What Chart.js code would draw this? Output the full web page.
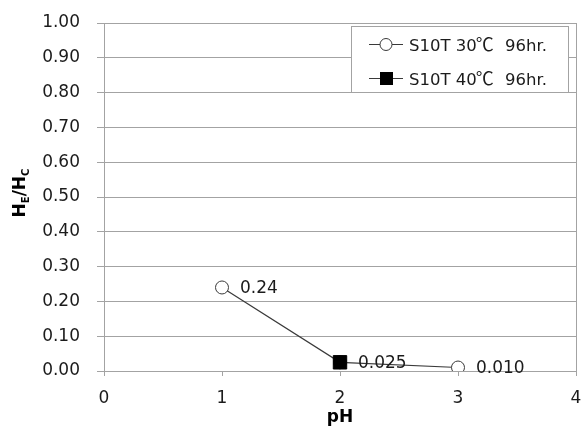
<!DOCTYPE html>
<html>
<head>
<meta charset="utf-8">
<script src="https://cdn.jsdelivr.net/npm/chart.js@4"></script>
<style>
  html, body { margin: 0; padding: 0; background: #fff; }
  canvas { display: block; }
</style>
</head>
<body>
<canvas id="ratioChart" width="581" height="429"></canvas>
<script>
// S10T series, H_E/H_C against pH
const ph30 = [1, 2, 3];
const ratio30 = [0.24, 0.025, 0.010];
const digits30 = [2, null, 3];   // decimals of the value label, null = no label

const ph40 = [2];
const ratio40 = [0.025];
const digits40 = [3];

const xTicks = [0, 1, 2, 3, 4];
const yTicks = [0, 0.1, 0.2, 0.3, 0.4, 0.5, 0.6, 0.7, 0.8, 0.9, 1.0];

// legend names split round the degree sign so it can use a CJK face
const seriesNames = [['S10T 30', '\u2103', '96hr.'], ['S10T 40', '\u2103', '96hr.']];

const FONT = 'DejaVu Sans';
const CJK = 'Noto Sans CJK JP';
const TEXT = '#1b1b1b';
const GRID = '#a3a3a3';
const LINE = '#3a3a3a';

const toPoints = (xs, ys) => xs.map((x, i) => ({ x: x, y: ys[i] }));

// value labels to the right of each marker
const valueLabels = {
  id: 'valueLabels',
  afterDatasetsDraw(chart) {
    const ctx = chart.ctx;
    ctx.save();
    ctx.font = '17px "' + FONT + '"';
    ctx.fillStyle = TEXT;
    ctx.textBaseline = 'middle';
    ctx.textAlign = 'left';
    chart.data.datasets.forEach((ds, di) => {
      const meta = chart.getDatasetMeta(di);
      meta.data.forEach((pt, i) => {
        const d = ds.labelDigits[i];
        if (d === null) return;
        ctx.fillText(ds.data[i].y.toFixed(d), pt.x + 18, pt.y + 1);
      });
    });
    ctx.restore();
  }
};

// pH tick labels, y axis title with subscripts, and the boxed legend
const extras = {
  id: 'extras',
  afterDraw(chart) {
    const ctx = chart.ctx;
    const xScale = chart.scales.x;

    // pH tick labels (kept off the scale so they do not pad the plot area)
    ctx.save();
    ctx.font = '17px "' + FONT + '"';
    ctx.fillStyle = TEXT;
    ctx.textAlign = 'center';
    ctx.textBaseline = 'alphabetic';
    xTicks.forEach(v => ctx.fillText(String(v), xScale.getPixelForValue(v), 402.5));
    ctx.restore();

    // H_E/H_C
    ctx.save();
    ctx.translate(25, 193);
    ctx.rotate(-Math.PI / 2);
    ctx.fillStyle = '#000';
    ctx.textBaseline = 'alphabetic';
    const big = 'bold 17px "' + FONT + '"';
    const small = 'bold 10px "' + FONT + '"';
    const parts = [['H', big, 0], ['E', small, 4], ['/H', big, 0], ['C', small, 4]];
    let total = 0;
    parts.forEach(p => { ctx.font = p[1]; total += ctx.measureText(p[0]).width; });
    let x = -total / 2;
    parts.forEach(p => {
      ctx.font = p[1];
      ctx.fillText(p[0], x, p[2]);
      x += ctx.measureText(p[0]).width;
    });
    ctx.restore();

    // legend
    const box = { left: 351.5, top: 26.5, right: 568.5, bottom: 92.5 };
    ctx.save();
    ctx.fillStyle = '#fff';
    ctx.fillRect(box.left, box.top, box.right - box.left, box.bottom - box.top);
    ctx.strokeStyle = GRID;
    ctx.lineWidth = 1;
    ctx.strokeRect(box.left, box.top, box.right - box.left, box.bottom - box.top);

    const rows = [44, 78];
    ctx.textBaseline = 'alphabetic';
    chart.data.datasets.forEach((ds, i) => {
      const y = rows[i] + 0.5;
      ctx.strokeStyle = LINE;
      ctx.beginPath();
      ctx.moveTo(369, y);
      ctx.lineTo(403, y);
      ctx.stroke();
      if (ds.pointStyle === 'rect') {
        ctx.fillStyle = '#000';
        ctx.fillRect(380, y - 6.5, 13, 13);
      } else {
        ctx.fillStyle = '#fff';
        ctx.beginPath();
        ctx.arc(386, y, 6, 0, Math.PI * 2);
        ctx.fill();
        ctx.stroke();
      }
      ctx.fillStyle = TEXT;
      const [head, deg, tail] = seriesNames[i];
      ctx.font = '16.5px "' + FONT + '"';
      ctx.fillText(head, 409, y + 6.5);
      const degX = 409 + ctx.measureText(head).width - 1;
      ctx.font = '18px "' + CJK + '"';
      ctx.fillText(deg, degX, y + 6.5);
      ctx.font = '16.5px "' + FONT + '"';
      ctx.fillText(tail, 505, y + 6.5);
    });
    ctx.restore();
  }
};

new Chart(document.getElementById('ratioChart'), {
  type: 'scatter',
  data: {
    datasets: [
      {
        label: seriesNames[0].join(''),
        data: toPoints(ph30, ratio30),
        labelDigits: digits30,
        showLine: true,
        borderColor: LINE,
        borderWidth: 1.2,
        pointStyle: 'circle',
        pointRadius: 6.5,
        pointBorderWidth: 1,
        pointBorderColor: LINE,
        pointBackgroundColor: '#fff',
        order: 1
      },
      {
        label: seriesNames[1].join(''),
        data: toPoints(ph40, ratio40),
        labelDigits: digits40,
        showLine: false,
        borderColor: '#000',
        pointStyle: 'rect',
        pointRadius: 9.5,
        pointBorderWidth: 1,
        pointBorderColor: '#000',
        pointBackgroundColor: '#000',
        order: 0
      }
    ]
  },
  options: {
    responsive: false,
    animation: false,
    // fixed plot box: no extra room for marker overflow
    layout: { autoPadding: false, padding: { top: 23, right: 5, left: 0, bottom: 0 } },
    plugins: {
      legend: { display: false },
      tooltip: { enabled: false }
    },
    scales: {
      x: {
        type: 'linear',
        min: xTicks[0],
        max: xTicks[xTicks.length - 1],
        afterBuildTicks: s => { s.ticks = xTicks.map(v => ({ value: v })); },
        afterFit: s => {
          s.height = 58;
          s.paddingLeft = 0;
          s.paddingRight = 0;
        },
        grid: {
          color: c => (c.tick && (c.tick.value === xTicks[0] || c.tick.value === xTicks[xTicks.length - 1])) ? GRID : 'rgba(0,0,0,0)',
          tickColor: GRID,
          tickLength: 5
        },
        border: { color: GRID },
        ticks: { display: false },
        title: {
          display: true,
          text: 'pH',
          color: '#000',
          font: { family: FONT, size: 17, weight: 'bold' },
          padding: { top: 0, bottom: 1 }
        }
      },
      y: {
        min: yTicks[0],
        max: yTicks[yTicks.length - 1],
        afterBuildTicks: s => { s.ticks = yTicks.map(v => ({ value: v })); },
        afterFit: s => {
          s.width = 104;
          s.paddingTop = 0;
          s.paddingBottom = 0;
        },
        grid: { color: GRID, tickColor: GRID, tickLength: 7 },
        border: { color: GRID },
        ticks: {
          color: TEXT,
          font: { family: FONT, size: 17 },
          padding: 17,
          callback: v => Number(v).toFixed(2)
        }
      }
    }
  },
  plugins: [valueLabels, extras]
});
</script>
</body>
</html>
